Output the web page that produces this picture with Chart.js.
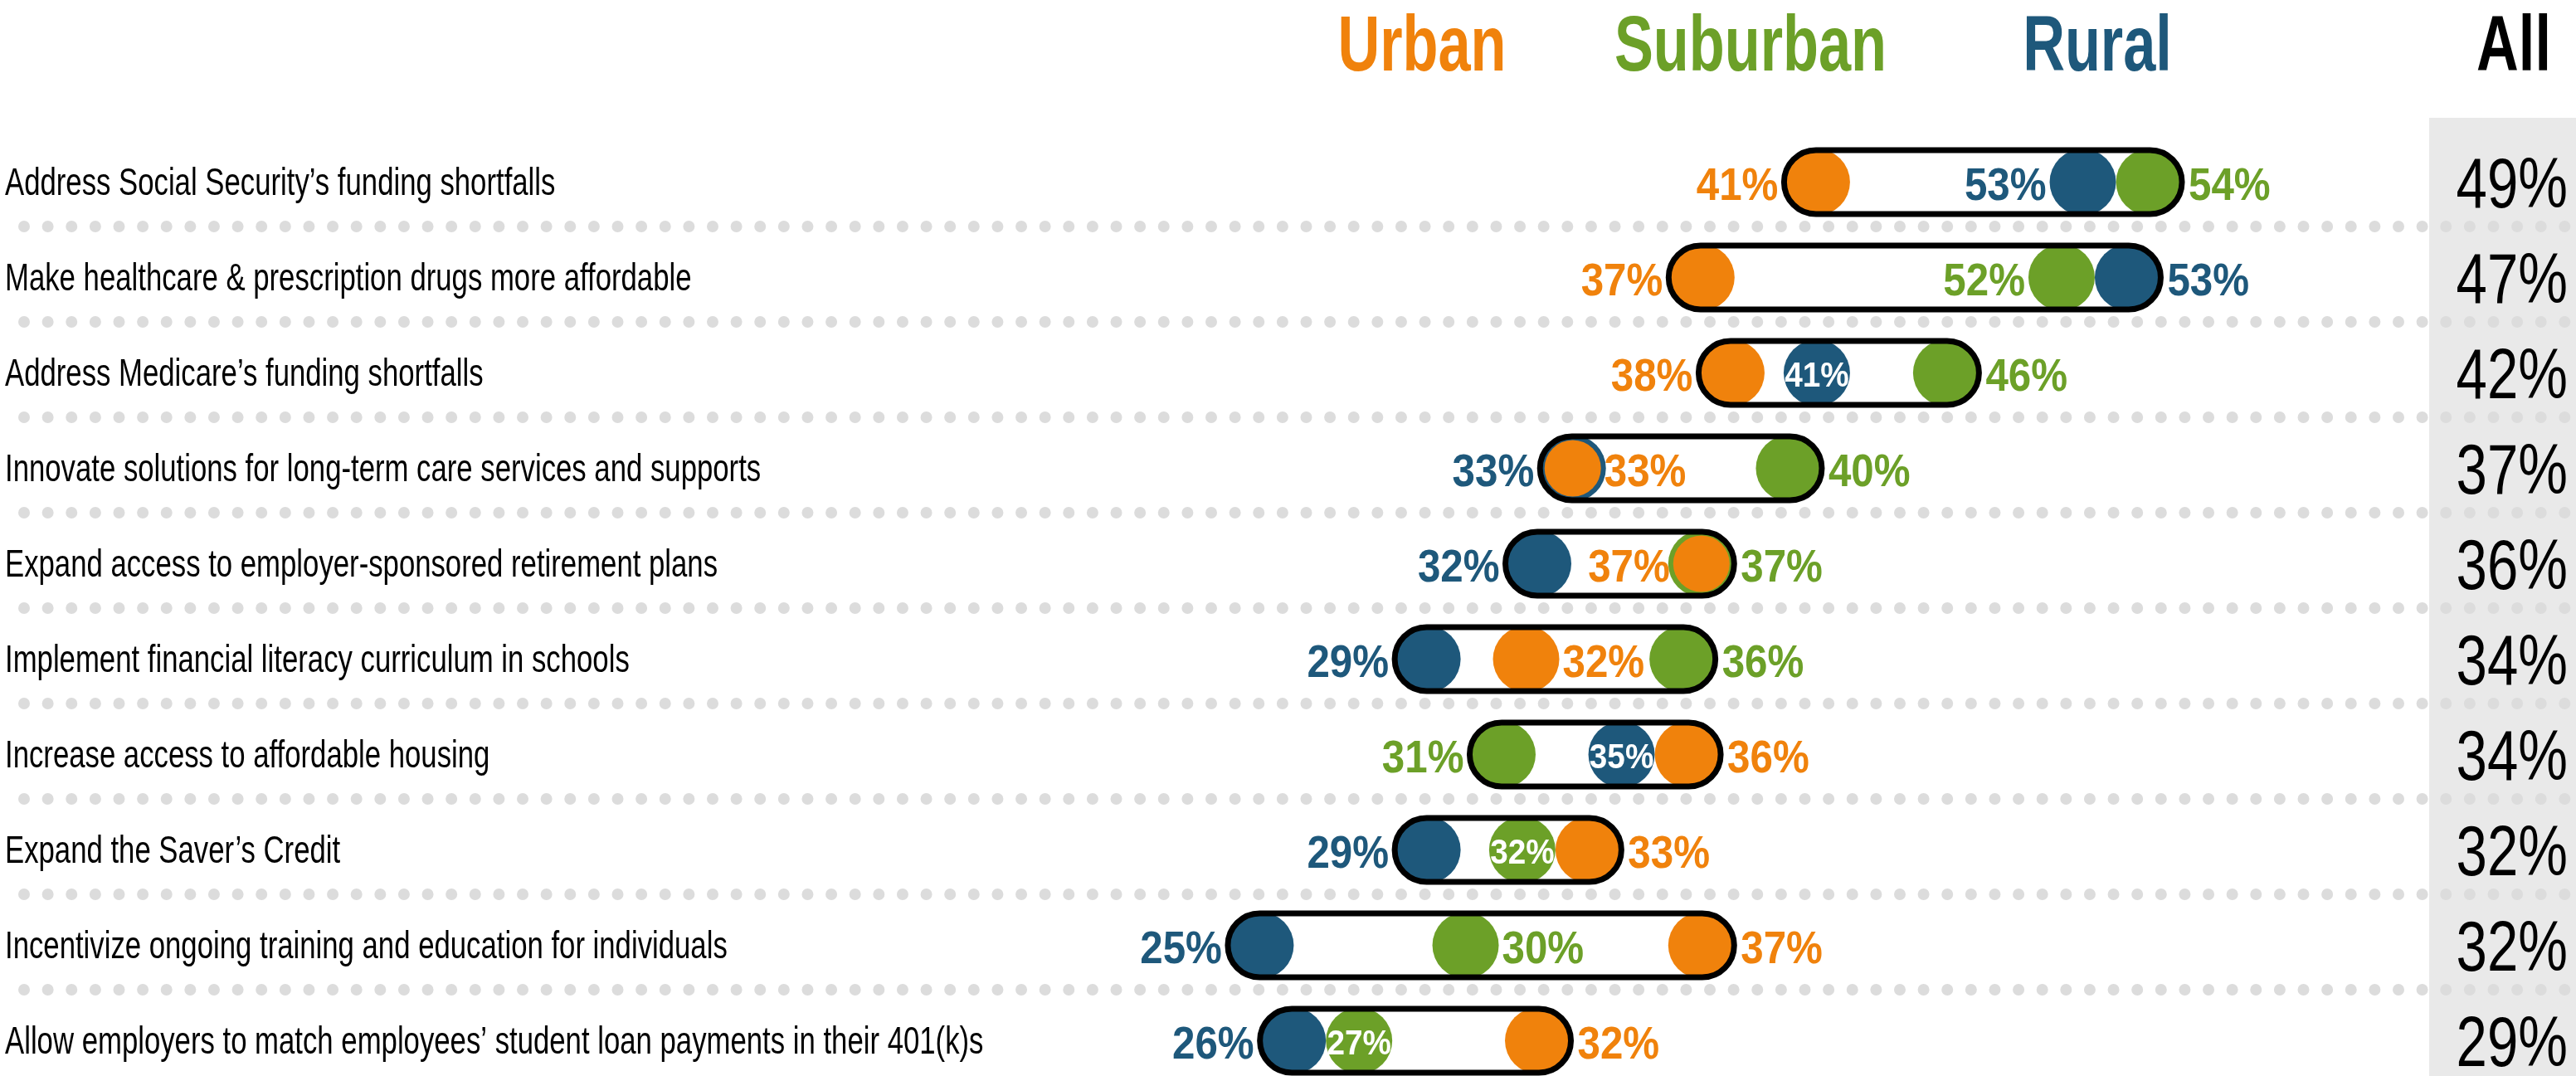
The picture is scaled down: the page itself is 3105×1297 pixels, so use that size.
<!DOCTYPE html>
<html>
<head>
<meta charset="utf-8">
<script src="https://cdn.jsdelivr.net/npm/chart.js@4/dist/chart.umd.min.js"></script>
<style>
  html, body { margin: 0; background: #fff; width: 3105px; height: 1297px; overflow: hidden; }
  canvas { display: block; }
</style>
</head>
<body>
<canvas id="grafico-prioridades" width="3105" height="1312"></canvas>
<script>
// dados
const categories = [
    'Address Social Security’s funding shortfalls',
    'Make healthcare & prescription drugs more affordable',
    'Address Medicare’s funding shortfalls',
    'Innovate solutions for long-term care services and supports',
    'Expand access to employer-sponsored retirement plans',
    'Implement financial literacy curriculum in schools',
    'Increase access to affordable housing',
    'Expand the Saver’s Credit',
    'Incentivize ongoing training and education for individuals',
    'Allow employers to match employees’ student loan payments in their 401(k)s'
];
const seriesNames = ['Urban', 'Suburban', 'Rural'];
const urban = [41, 37, 38, 33, 37, 32, 36, 33, 37, 32];
const suburban = [54, 52, 46, 40, 37, 36, 31, 32, 30, 27];
const rural = [53, 53, 41, 33, 32, 29, 35, 29, 25, 26];
const allValues = [49, 47, 42, 37, 36, 34, 34, 32, 32, 29];

const colors = ['#f0820c', '#6ca028', '#1e587b'];
const R = 40;
const numFont = 'bold 56px "Liberation Sans", Arial, sans-serif';
const numSx = 0.88;
// onde fica o rotulo do circulo do meio
const midLabel = ['left', 'left', 'inside', 'right', 'left', 'right', 'inside', 'inside', 'right', 'inside'];
// ordem de desempate: Rural, Urban, Suburban
const tieRank = [1, 2, 0];

function condText(ctx, text, x, y, font, color, align, sx) {
    ctx.save();
    ctx.translate(x, y);
    ctx.scale(sx, 1);
    ctx.font = font;
    ctx.fillStyle = color;
    ctx.textAlign = align;
    ctx.textBaseline = 'alphabetic';
    ctx.fillText(text, 0, 0);
    ctx.restore();
}

function textW(ctx, text, font, sx) {
    ctx.save();
    ctx.font = font;
    const w = ctx.measureText(text).width * sx;
    ctx.restore();
    return w;
}

function rowPoints(chart, i) {
    return [0, 1, 2].map(d => ({
        ds: d,
        el: chart.getDatasetMeta(d).data[i],
        v: chart.data.datasets[d].data[i].x
    })).sort((a, b) => (a.v - b.v) || (tieRank[a.ds] - tieRank[b.ds]));
}

const layoutPlugin = {
    id: 'layoutPlugin',
    // afasta circulos que se sobrepoem (e abre espaco pro rotulo do meio)
    afterDatasetsUpdate(chart) {
        const ctx = chart.ctx;
        for (let i = 0; i < categories.length; i++) {
            const pts = rowPoints(chart, i);
            const nodes = [];
            pts.forEach(p => {
                const last = nodes[nodes.length - 1];
                if (last && last.v === p.v) last.items.push(p);
                else nodes.push({ v: p.v, x: p.el.x, items: [p] });
            });
            const midNode = nodes.findIndex(n => n.items.includes(pts[1]));
            const lw = textW(ctx, pts[1].v + '%', numFont, numSx) + 10;
            const need = [];
            for (let k = 1; k < nodes.length; k++) {
                let g = 2 * R;
                if (midLabel[i] === 'right' && k === midNode + 1) g += lw;
                if (midLabel[i] === 'left' && k === midNode) g += lw;
                need.push(g);
            }
            for (let it = 0; it < 10; it++) {
                for (let k = 1; k < nodes.length; k++) {
                    const gap = nodes[k].x - nodes[k - 1].x;
                    if (gap < need[k - 1]) {
                        const d = (need[k - 1] - gap) / 2;
                        nodes[k - 1].x -= d;
                        nodes[k].x += d;
                    }
                }
            }
            nodes.forEach(n => n.items.forEach(p => { p.el.x = n.x; }));
        }
    },
    beforeDraw(chart) {
        const ctx = chart.ctx;
        const yScale = chart.scales.y;
        ctx.save();
        ctx.fillStyle = '#e9e9e9';
        ctx.fillRect(2928, 142, 3105 - 2928, chart.height - 142);
        ctx.fillStyle = '#dcdcdc';
        for (let i = 0; i < categories.length - 1; i++) {
            const y = (yScale.getPixelForValue(i) + yScale.getPixelForValue(i + 1)) / 2 - 4;
            for (let x = 29; x < 3100; x += 28.62) {
                ctx.beginPath();
                ctx.arc(x, y, 7, 0, Math.PI * 2);
                ctx.fill();
            }
        }
        ctx.restore();

        // cabecalhos
        const hf = 'bold 95px "Liberation Sans", Arial, sans-serif';
        condText(ctx, seriesNames[0], 1714, 85, hf, colors[0], 'center', 0.74);
        condText(ctx, seriesNames[1], 2110, 85, hf, colors[1], 'center', 0.74);
        condText(ctx, seriesNames[2], 2528, 85, hf, colors[2], 'center', 0.74);
        condText(ctx, 'All', 3030, 85, hf, '#000', 'center', 0.74);

        // categorias e coluna All
        categories.forEach((c, i) => {
            const y = yScale.getPixelForValue(i);
            condText(ctx, c, 6, y + 15, '46px "Liberation Sans", Arial, sans-serif', '#000', 'left', 0.755);
            condText(ctx, allValues[i] + '%', 3095, y + 30, '85px "Liberation Sans", Arial, sans-serif', '#000', 'right', 0.79);
        });
    },
    beforeDatasetsDraw(chart) {
        const ctx = chart.ctx;
        ctx.save();
        ctx.fillStyle = '#fff';
        for (let i = 0; i < categories.length; i++) {
            const pts = rowPoints(chart, i);
            const y = chart.scales.y.getPixelForValue(i);
            ctx.beginPath();
            ctx.roundRect(pts[0].el.x - R + 0.5, y - 38.5, pts[2].el.x - pts[0].el.x + 2 * R - 1, 77, 38.5);
            ctx.fill();
        }
        ctx.restore();
    },
    afterDatasetsDraw(chart) {
        const ctx = chart.ctx;
        ctx.save();
        ctx.strokeStyle = '#000';
        ctx.lineWidth = 7;
        const inf = 'bold 43px "Liberation Sans", Arial, sans-serif';
        for (let i = 0; i < categories.length; i++) {
            const pts = rowPoints(chart, i);
            const y = chart.scales.y.getPixelForValue(i);
            const left = pts[0].el.x - R + 0.5;
            const right = pts[2].el.x + R - 0.5;
            ctx.beginPath();
            ctx.roundRect(left, y - 38.5, right - left, 77, 38.5);
            ctx.stroke();

            const a = pts[0], m = pts[1], b = pts[2];
            condText(ctx, a.v + '%', left - 7, y + 21, numFont, colors[a.ds], 'right', numSx);
            condText(ctx, b.v + '%', right + 8, y + 21, numFont, colors[b.ds], 'left', numSx);
            const r = m.el.options.radius;
            if (midLabel[i] === 'inside') {
                condText(ctx, m.v + '%', m.el.x, y + 16, inf, '#fff', 'center', 0.9);
            } else if (midLabel[i] === 'left') {
                condText(ctx, m.v + '%', m.el.x - r - 4, y + 21, numFont, colors[m.ds], 'right', numSx);
            } else {
                condText(ctx, m.v + '%', m.el.x + r + 4, y + 21, numFont, colors[m.ds], 'left', numSx);
            }
        }
        ctx.restore();
    }
};

function serie(values, d) {
    return {
        label: seriesNames[d],
        data: values.map((v, i) => ({ x: v, y: i })),
        backgroundColor: colors[d],
        borderWidth: 0,
        pointBorderWidth: 0,
        pointRadius: values.map((v, i) => {
            // empate: o circulo de cima fica menor
            const others = [urban, suburban, rural].filter((s, k) => k !== d).map(s => s[i]);
            return d === 0 && others.includes(v) ? 34 : R;
        }),
        pointHoverRadius: R,
        clip: false
    };
}

const ctx1 = document.getElementById('grafico-prioridades');
const data1 = {
    datasets: [serie(urban, 0), serie(suburban, 1), serie(rural, 2)]
};
const options1 = {
    responsive: false,
    animation: false,
    events: [],
    layout: {
        autoPadding: false,
        padding: { left: 1217, right: 399, top: 162, bottom: 0 }
    },
    plugins: {
        legend: { display: false },
        tooltip: { enabled: false }
    },
    scales: {
        x: {
            type: 'logarithmic',
            min: 20,
            max: 60,
            display: false
        },
        y: {
            type: 'linear',
            reverse: true,
            min: -0.5,
            max: 9.5,
            display: false
        }
    }
};
new Chart(ctx1, {
    type: 'scatter',
    data: data1,
    options: options1,
    plugins: [layoutPlugin]
});
</script>
</body>
</html>
